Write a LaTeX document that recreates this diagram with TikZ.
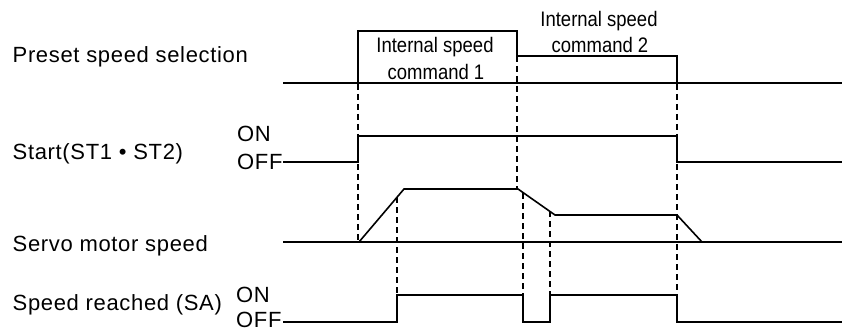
\documentclass[tikz,border=0pt]{standalone}
\usepackage{fontspec}
\setmainfont{Liberation Sans}[LetterSpace=3]
\newfontfamily\narrowfont{Liberation Sans}[FakeStretch=0.88]
\begin{document}
\begin{tikzpicture}[x=1pt,y=-1pt,
  wave/.style={line width=1.6pt, line join=miter},
  guide/.style={line width=1.2pt, dash pattern=on 6pt off 4pt},
  lbl/.style={anchor=base west, inner sep=0pt, text depth=0pt, font=\fontsize{22}{24}\selectfont},
  cmd/.style={anchor=base, inner sep=0pt, font=\narrowfont\fontsize{21}{24}\selectfont}]
\useasboundingbox (0,0) rectangle (842,331);

% signal labels
\node[lbl] (preset) at (12.5,63) {Preset speed selection};
\node[lbl] (start)  at (12.5,160) {Start(ST1 • ST2)};
\node[lbl] (servo)  at (12.5,251.7) {Servo motor speed};
\node[lbl] (sa)     at (12.5,310) {Speed reached (SA)};
\node[lbl] (on1)  at (237,142) {ON};
\node[lbl] (off1) at (237,170) {OFF};
\node[lbl] (on2)  at (236,302) {ON};
\node[lbl] (off2) at (236,327.5) {OFF};

% command labels
\node[cmd] (c1a) at (435,53) {Internal speed};
\node[cmd] (c1b) at (436,80) {command 1};
\node[cmd] (c2a) at (599,27) {Internal speed};
\node[cmd] (c2b) at (600,53) {command 2};

% dashed guides
\draw[guide] (358,84) -- (358,242);
\draw[guide] (397,197) -- (397,295);
\draw[guide] (517,56) -- (517,189);
\draw[guide] (523,193) -- (523,295);
\draw[guide] (550,211) -- (550,295);
\draw[guide] (677,84) -- (677,295);

% preset speed selection
\draw[wave] (283,83) -- (842,83);
\draw[wave] (358,83) -- (358,31) -- (517,31) -- (517,56) -- (677,56) -- (677,83);

% start
\draw[wave] (283,162) -- (358,162) -- (358,136) -- (677,136) -- (677,162) -- (842,162);

% servo motor speed
\draw[wave] (283,242) -- (842,242);
\draw[wave] (359,242) -- (404,189) -- (518,189) -- (555,215) -- (677,215) -- (702,242);

% speed reached
\draw[wave] (283,322) -- (397,322) -- (397,295) -- (523,295) -- (523,322) -- (550,322) -- (550,295) -- (677,295) -- (677,322) -- (842,322);
\end{tikzpicture}
\end{document}
